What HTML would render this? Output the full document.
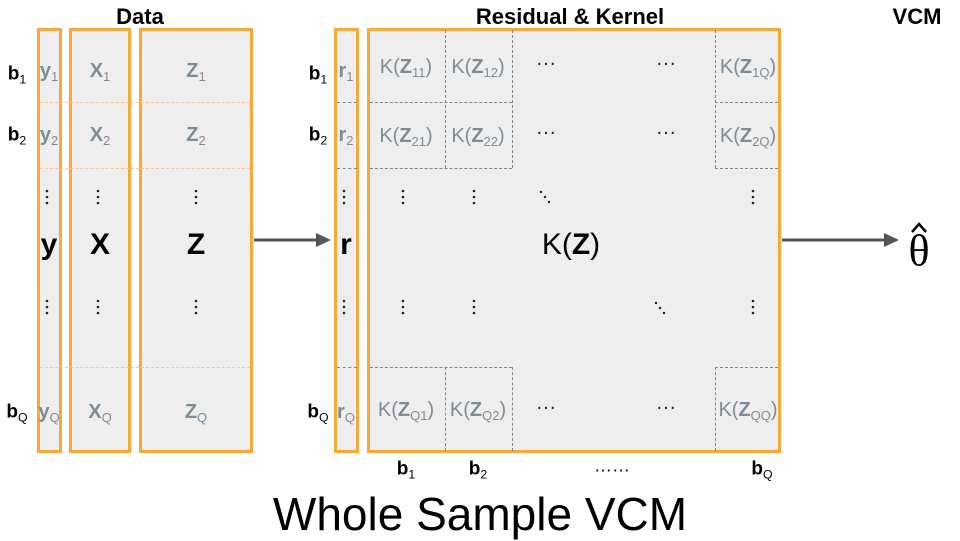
<!DOCTYPE html>
<html><head><meta charset="utf-8"><style>
body{margin:0;width:960px;height:540px;background:#fff;position:relative;overflow:hidden;font-family:"Liberation Sans",sans-serif}
.a{position:absolute}
.col{position:absolute;background:#eee;border:3px solid #f9a93c;box-sizing:border-box}
.t{position:absolute;transform:translate(-50%,-50%);white-space:nowrap}
.g{color:#7d8d97;font-size:20px}
.b{font-weight:bold}
.k{font-size:20px;color:#7d8d97}
.lab{font-size:19px;font-weight:bold;color:#000}
sub{font-size:65%;font-weight:normal;vertical-align:-4px}
.hd{position:absolute;border-top:1px dashed #f6c785}
.gd{position:absolute;border-top:1px dashed #888}
.vd{position:absolute;border-left:1px dashed #888}
.dot{position:absolute;transform:translate(-50%,-50%);font-size:20px;color:#222}
</style></head><body>
<div class="t b" style="left:140px;top:17px;font-size:22px">Data</div>
<div class="t b" style="left:570px;top:17px;font-size:22px">Residual &amp; Kernel</div>
<div class="t b" style="left:917px;top:17px;font-size:22px">VCM</div>

<div class="col" style="left:37px;top:28px;width:25px;height:425px"></div>
<div class="col" style="left:69px;top:28px;width:62px;height:425px"></div>
<div class="col" style="left:139px;top:28px;width:114px;height:425px"></div>
<div class="hd" style="left:40px;top:102px;width:210px"></div>
<div class="hd" style="left:40px;top:168px;width:210px"></div>
<div class="hd" style="left:40px;top:367px;width:210px"></div>

<div class="col" style="left:334px;top:28px;width:25px;height:425px"></div>
<div class="col" style="left:367px;top:28px;width:414px;height:425px"></div>
<div class="gd" style="left:337px;top:102px;width:20px"></div>
<div class="gd" style="left:337px;top:168px;width:20px"></div>
<div class="gd" style="left:337px;top:367px;width:20px"></div>
<div class="gd" style="left:370px;top:102px;width:142px"></div>
<div class="gd" style="left:370px;top:168px;width:142px"></div>
<div class="gd" style="left:370px;top:367px;width:142px"></div>
<div class="gd" style="left:715px;top:102px;width:63px"></div>
<div class="gd" style="left:715px;top:168px;width:63px"></div>
<div class="gd" style="left:715px;top:367px;width:63px"></div>
<div class="vd" style="left:445px;top:30px;height:138px"></div>
<div class="vd" style="left:512px;top:30px;height:138px"></div>
<div class="vd" style="left:715px;top:30px;height:138px"></div>
<div class="vd" style="left:445px;top:367px;height:84px"></div>
<div class="vd" style="left:512px;top:367px;height:84px"></div>
<div class="vd" style="left:715px;top:367px;height:84px"></div>

<div class="t lab" style="left:17px;top:75px">b<sub>1</sub></div>
<div class="t lab" style="left:17px;top:136px">b<sub>2</sub></div>
<div class="t lab" style="left:17px;top:413px">b<sub>Q</sub></div>
<div class="t lab" style="left:318px;top:75px">b<sub>1</sub></div>
<div class="t lab" style="left:318px;top:136px">b<sub>2</sub></div>
<div class="t lab" style="left:318px;top:413px">b<sub>Q</sub></div>

<div class="t g b" style="left:49px;top:72px">y<sub>1</sub></div>
<div class="t g b" style="left:49px;top:136px">y<sub>2</sub></div>
<div class="t g b" style="left:49px;top:413px">y<sub>Q</sub></div>
<div class="t g b" style="left:100px;top:72px">X<sub>1</sub></div>
<div class="t g b" style="left:100px;top:136px">X<sub>2</sub></div>
<div class="t g b" style="left:100px;top:413px">X<sub>Q</sub></div>
<div class="t g b" style="left:196px;top:72px">Z<sub>1</sub></div>
<div class="t g b" style="left:196px;top:136px">Z<sub>2</sub></div>
<div class="t g b" style="left:196px;top:413px">Z<sub>Q</sub></div>
<div class="t g b" style="left:346px;top:72px">r<sub>1</sub></div>
<div class="t g b" style="left:346px;top:136px">r<sub>2</sub></div>
<div class="t g b" style="left:346px;top:413px">r<sub>Q</sub></div>

<div class="t b" style="left:49px;top:245px;font-size:30px">y</div>
<div class="t b" style="left:100px;top:245px;font-size:30px">X</div>
<div class="t b" style="left:196px;top:245px;font-size:30px">Z</div>
<div class="t b" style="left:346px;top:245px;font-size:30px">r</div>
<div class="t" style="left:571px;top:245px;font-size:30px">K(<b>Z</b>)</div>

<div class="t k" style="left:406px;top:68px">K(<b>Z</b><sub>11</sub>)</div>
<div class="t k" style="left:478px;top:68px">K(<b>Z</b><sub>12</sub>)</div>
<div class="t k" style="left:748px;top:68px">K(<b>Z</b><sub>1Q</sub>)</div>
<div class="t k" style="left:406px;top:137px">K(<b>Z</b><sub>21</sub>)</div>
<div class="t k" style="left:478px;top:137px">K(<b>Z</b><sub>22</sub>)</div>
<div class="t k" style="left:748px;top:137px">K(<b>Z</b><sub>2Q</sub>)</div>
<div class="t k" style="left:406px;top:411px">K(<b>Z</b><sub>Q1</sub>)</div>
<div class="t k" style="left:478px;top:411px">K(<b>Z</b><sub>Q2</sub>)</div>
<div class="t k" style="left:748px;top:411px">K(<b>Z</b><sub>QQ</sub>)</div>

<div class="dot" style="left:546px;top:64px">···</div>
<div class="dot" style="left:666px;top:64px">···</div>
<div class="dot" style="left:546px;top:133px">···</div>
<div class="dot" style="left:666px;top:133px">···</div>
<div class="dot" style="left:546px;top:408px">···</div>
<div class="dot" style="left:666px;top:408px">···</div>

<svg class="a" style="left:0;top:0" width="960" height="540">
<defs>
<g id="vd"><circle cx="0" cy="-6" r="1.3"/><circle cx="0" cy="0" r="1.3"/><circle cx="0" cy="6" r="1.3"/></g>
</defs>
<g fill="#222">
<use href="#vd" x="47" y="197"/><use href="#vd" x="98" y="197"/><use href="#vd" x="196" y="197"/><use href="#vd" x="344" y="197"/>
<use href="#vd" x="403" y="197"/><use href="#vd" x="474" y="197"/><use href="#vd" x="753" y="197"/>
<use href="#vd" x="47" y="307"/><use href="#vd" x="98" y="307"/><use href="#vd" x="196" y="307"/><use href="#vd" x="344" y="307"/>
<use href="#vd" x="403" y="307"/><use href="#vd" x="474" y="307"/><use href="#vd" x="753" y="307"/>
<circle cx="541" cy="192" r="1.2"/><circle cx="545" cy="197" r="1.2"/><circle cx="549" cy="202" r="1.2"/>
<circle cx="656" cy="303" r="1.2"/><circle cx="660" cy="308" r="1.2"/><circle cx="664" cy="313" r="1.2"/>
</g>
<line x1="254" y1="240" x2="318" y2="240" stroke="#555" stroke-width="3"/>
<polygon points="316,233 331,240 316,247" fill="#555"/>
<line x1="782" y1="240" x2="886" y2="240" stroke="#555" stroke-width="3"/>
<polygon points="884,233 899,240 884,247" fill="#555"/>
<polyline points="912,232 919,224 926,232" fill="none" stroke="#000" stroke-width="2.5"/>
</svg>

<div class="t" style="left:919px;top:251px;font-size:44px;font-family:'Liberation Serif',serif">θ</div>

<div class="t lab" style="left:406px;top:470px">b<sub>1</sub></div>
<div class="t lab" style="left:478px;top:470px">b<sub>2</sub></div>
<div class="t" style="left:612px;top:466px;font-size:18px">……</div>
<div class="t lab" style="left:762px;top:470px">b<sub>Q</sub></div>

<div class="t" style="left:480px;top:514px;font-size:46px">Whole Sample VCM</div>
</body></html>
